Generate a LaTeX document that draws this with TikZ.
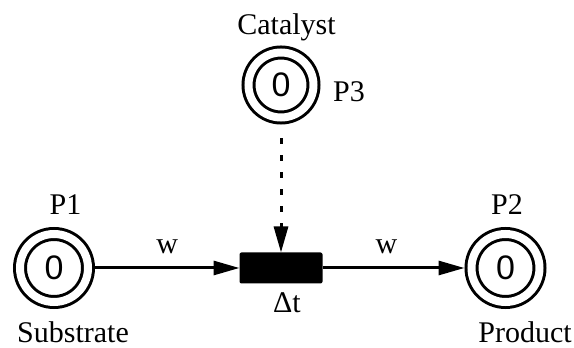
\documentclass[tikz,border=0pt]{standalone}
\usepackage{fontspec}
\setmainfont{Liberation Serif}
\newfontfamily\labelfont{Liberation Serif}
\newfontfamily\placefont{Liberation Sans}
\usetikzlibrary{arrows.meta, positioning}

\begin{document}
\begin{tikzpicture}[
    x=1pt, y=1pt,
    place/.style={circle, draw, line width=3pt, double, double distance=8pt, minimum size=68pt, inner sep=0pt, outer sep=7pt, font=\placefont\fontsize{34}{40}\selectfont},
    trans/.style={rectangle, fill=black, rounded corners=2pt, minimum width=83pt, minimum height=31pt, inner sep=0pt, outer sep=0pt},
    lbl/.style={inner sep=0pt, font=\labelfont\fontsize{30}{36}\selectfont},
    arc/.style={line width=3pt},
    >={Triangle[length=26pt, width=14pt]}
]
\useasboundingbox (0,0) rectangle (574,348);

\node[place] (p1) at (54,80) {0};
\node[trans] (t1) at (281,80) {};
\node[place] (p2) at (505.5,80) {0};
\node[place, minimum size=65pt] (p3) at (281,263) {0};

\node[lbl, above=12pt of p1, xshift=11.5pt] (p1name) {P1};
\node[lbl, below=12pt of p1, xshift=19pt] (substrate) {Substrate};
\node[lbl, above=12pt of p2, xshift=1.5pt] (p2name) {P2};
\node[lbl, below=12pt of p2, xshift=19.5pt] (product) {Product};
\node[lbl, above=4pt of p3, xshift=5.5pt] (catalyst) {Catalyst};
\node[lbl, right=12.5pt of p3, yshift=-7pt] (p3name) {P3};
\node[lbl, below=8.5pt of t1, xshift=6pt] (delay) {Δt};

\draw[arc, ->] (p1) -- node[lbl, above=13pt] (w1) {w} (t1);
\draw[arc, ->] (t1) -- node[lbl, pos=0.45, above=13pt] (w2) {w} (p2);
\draw[arc, ->, dash pattern=on 6pt off 11pt, dash phase=6pt, shorten <=3pt] (p3) -- (t1);
\end{tikzpicture}
\end{document}
